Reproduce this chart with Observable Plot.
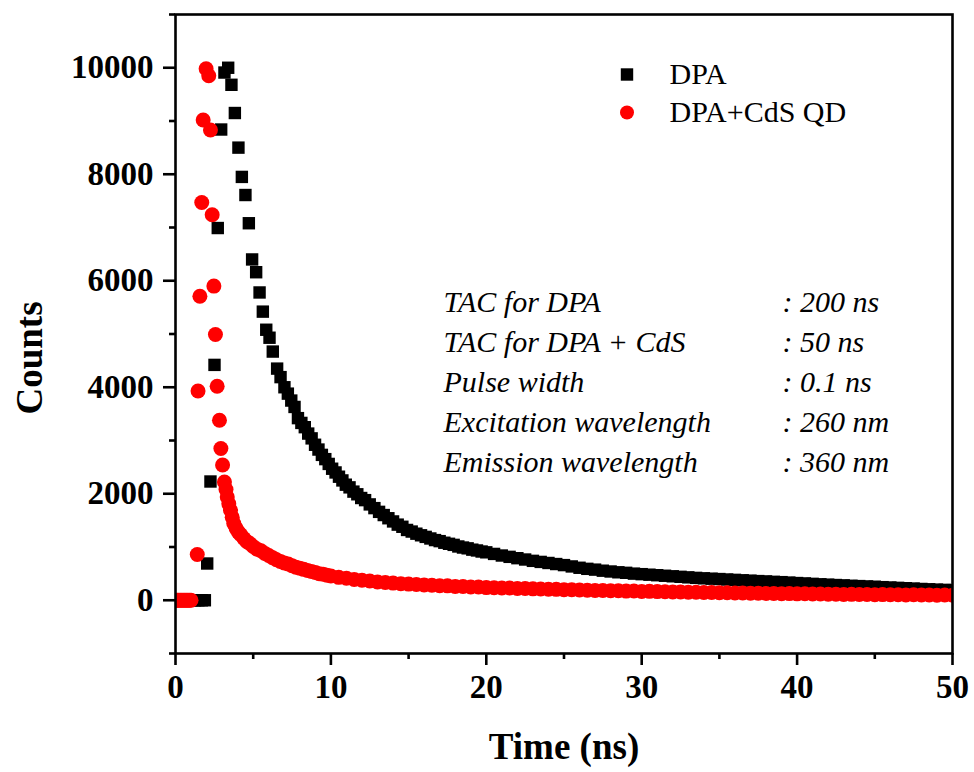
<!DOCTYPE html>
<html><head><meta charset="utf-8">
<script src="https://cdn.jsdelivr.net/npm/d3@7"></script>
<script src="https://cdn.jsdelivr.net/npm/@observablehq/plot@0.6"></script>
<style>html,body{margin:0;padding:0;background:#fff;}</style>
</head><body><div id="chart"></div>
<script>
// DPA decay: [time (ns), counts]
const dpaData = [
[0.15,0],[0.37,0],[0.59,0],[0.81,0],[1.03,0],[1.25,0],[1.47,0],[1.69,0],[1.89,0],
[2.04,690],[2.25,2230],[2.51,4420],[2.72,6990],[2.94,8840],[3.15,9910],[3.39,10000],[3.60,9680],[3.82,9150],[4.05,8500],
[4.27,7950],[4.50,7610],[4.72,7080],[4.93,6400],[5.19,6160],[5.41,5780],[5.62,5420],[5.84,5080],[6.05,4930],[6.26,4670],
[6.54,4350],[6.76,4190],[7.01,4000],[7.23,3880],[7.45,3750],[7.66,3630],[7.88,3420],[8.10,3330],[8.32,3250],[8.54,3130],
[8.76,3040],[8.98,2920],[9.20,2830],[9.42,2730],[9.64,2650],[9.86,2560],[10.08,2470],[10.30,2400],[10.52,2320],[10.74,2250],
[10.96,2170],[11.2,2120],[11.45,2040],[11.7,1990],[11.95,1920],[12.2,1880],[12.5,1800],[12.8,1730],[13.1,1660],[13.4,1600],
[13.7,1540],[14.0,1480],[14.3,1420],[14.6,1380],[14.9,1320],[15.2,1290],[15.5,1250],[15.8,1220],[16.1,1190],[16.4,1160],
[16.7,1130],[17.0,1110],[17.3,1080],[17.6,1060],[17.9,1040],[18.2,1010],[18.5,990],[18.8,975],[19.1,950],[19.4,935],
[19.7,915],[20.0,900],[20.5,870],[21.0,840],[21.5,815],[22.0,790],[22.5,765],[23.0,740],[23.5,720],[24.0,700],
[24.5,680],[25.0,660],[25.5,635],[26.0,610],[26.5,590],[27.0,575],[27.5,555],[28.0,540],[28.5,525],[29.0,515],
[29.5,500],[30.0,490],[30.5,480],[31.0,470],[31.5,460],[32.0,450],[32.5,440],[33.0,430],[33.5,420],[34.0,412],
[34.5,405],[35.0,398],[35.5,390],[36.0,383],[36.5,375],[37.0,368],[37.5,360],[38.0,354],[38.5,346],[39.0,340],
[39.5,332],[40.0,323],[40.5,316],[41.0,308],[41.5,300],[42.0,293],[42.5,286],[43.0,280],[43.5,272],[44.0,266],
[44.5,260],[45.0,254],[45.5,246],[46.0,240],[46.5,233],[47.0,226],[47.5,220],[48.0,212],[48.5,206],[49.0,200],
[49.5,195],[50.0,190]
];
// DPA + CdS QD decay: [time (ns), counts]
const cdsData = [
[0.0,0],[0.1,0],[0.2,0],[0.3,0],[0.4,0],[0.5,0],[0.6,0],[0.7,0],[0.8,0],[0.9,0],[1.0,0],
[1.40,860],[1.45,3930],[1.57,5710],[1.69,7470],[1.78,9020],[1.97,9980],[2.14,9850],[2.25,8830],[2.36,7240],[2.47,5900],
[2.57,4990],[2.68,4020],[2.83,3380],[2.92,2850],[3.03,2540],[3.15,2220],[3.25,2080],[3.33,1940],[3.43,1810],[3.54,1690],
[3.65,1560],[3.75,1440],[3.90,1350],[4.05,1280],[4.20,1230],[4.40,1160],[4.60,1100],[4.80,1060],[5.00,1010],[5.25,960],
[5.50,930],[5.75,880],[6.00,840],[6.25,800],[6.50,760],[6.75,730],[7.00,700],[7.25,680],[7.50,650],[7.75,620],
[8.00,600],[8.25,580],[8.50,560],[8.75,540],[9.00,520],[9.25,500],[9.50,490],[9.75,470],[10.0,455],[10.5,430],
[11.0,412],[11.5,392],[12.0,375],[12.5,362],[13.0,345],[13.5,333],[14.0,322],[14.5,312],[15.0,303],[15.5,295],
[16.0,288],[16.5,282],[17.0,272],[17.5,270],[18.0,260],[18.5,258],[19.0,248],[19.5,250],[20.0,238],[20.5,236],
[21.0,230],[21.5,229],[22.0,222],[22.5,220],[23.0,214],[23.5,212],[24.0,206],[24.5,205],[25.0,199],[25.5,198],
[26.0,192],[26.5,190],[27.0,185],[27.5,184],[28.0,178],[28.5,178],[29.0,172],[29.5,173],[30.0,166],[30.5,167],
[31.0,162],[31.5,160],[32.0,156],[32.5,157],[33.0,150],[33.5,151],[34.0,146],[34.5,145],[35.0,141],[35.5,141],
[36.0,136],[36.5,137],[37.0,132],[37.5,133],[38.0,128],[38.5,129],[39.0,124],[39.5,125],[40.0,120],[40.5,121],
[41.0,117],[41.5,118],[42.0,113],[42.5,115],[43.0,110],[43.5,111],[44.0,107],[44.5,109],[45.0,105],[45.5,106],
[46.0,102],[46.5,104],[47.0,100],[47.5,102],[48.0,98],[48.5,100],[49.0,96],[49.5,98],[50.0,95]
];
const xMajorTicks = [0, 10, 20, 30, 40, 50];
const xMinorTicks = [5, 15, 25, 35, 45];
const yMajorTicks = [0, 2000, 4000, 6000, 8000, 10000];
const yMinorTicks = [-1000, 1000, 3000, 5000, 7000, 9000, 11000];
const seriesNames = ["DPA", "DPA+CdS QD"];
const infoLabels = ["TAC for DPA", "TAC for DPA + CdS", "Pulse width", "Excitation wavelength", "Emission wavelength"];
const infoValues = [": 200 ns", ": 50 ns", ": 0.1 ns", ": 260 nm", ": 360 nm"];

const dpa = dpaData.map(([t, c]) => ({t, c}));
const cds = cdsData.map(([t, c]) => ({t, c}));

const serif = "'Liberation Serif','Times New Roman',serif";
const infoMarks = [];
infoLabels.forEach((s, i) => {
  infoMarks.push(Plot.text([s], {frameAnchor: "top-left", dx: 268, dy: 287.5 + 40 * i, textAnchor: "start", lineAnchor: "middle", fontSize: 30, fontStyle: "italic", fontWeight: "normal", fill: "black"}));
  infoMarks.push(Plot.text([infoValues[i]], {frameAnchor: "top-left", dx: 607, dy: 287.5 + 40 * i, textAnchor: "start", lineAnchor: "middle", fontSize: 30, fontStyle: "italic", fontWeight: "normal", fill: "black"}));
});

const chart = Plot.plot({
  width: 974, height: 772,
  marginLeft: 175, marginRight: 22, marginTop: 14, marginBottom: 119,
  style: {fontFamily: serif, fontSize: "33px", fontWeight: "bold", color: "black", background: "white", overflow: "visible"},
  x: {domain: [0, 50]},
  y: {domain: [-1000, 11000]},
  marks: [
    Plot.dot(dpa, {x: "t", y: "c", symbol: "square", r: 7, fill: "black", stroke: "none", clip: true}),
    Plot.dot(cds, {x: "t", y: "c", symbol: "circle", r: 7.5, fill: "#ff0000", stroke: "none", clip: true}),
    Plot.frame({stroke: "black", strokeWidth: 2.6}),
    Plot.axisX({ticks: xMajorTicks, tickSize: 12, tickPadding: 9, strokeWidth: 2.6, tickFormat: d => String(d), label: null}),
    Plot.axisX({ticks: xMinorTicks, tickSize: 6, strokeWidth: 2.6, tickFormat: () => "", label: null}),
    Plot.axisY({ticks: yMajorTicks, tickSize: 12, tickPadding: 10, strokeWidth: 2.6, tickFormat: d => String(d), label: null}),
    Plot.axisY({ticks: yMinorTicks, tickSize: 6, strokeWidth: 2.6, tickFormat: () => "", label: null}),
    Plot.text(["Counts"], {frameAnchor: "left", rotate: -90, dx: -145, dy: 24, textAnchor: "middle", lineAnchor: "middle", fontSize: 37, fontWeight: "bold", fill: "black"}),
    Plot.text(["Time (ns)"], {frameAnchor: "bottom", dy: 94, textAnchor: "middle", lineAnchor: "middle", fontSize: 37, fontWeight: "bold", fill: "black"}),
    Plot.dot([0], {frameAnchor: "top-left", dx: 451.5, dy: 60, symbol: "square", r: 7, fill: "black"}),
    Plot.dot([0], {frameAnchor: "top-left", dx: 451.5, dy: 98, symbol: "circle", r: 7, fill: "#ff0000"}),
    Plot.text([seriesNames[0]], {frameAnchor: "top-left", dx: 494, dy: 60, textAnchor: "start", lineAnchor: "middle", fontSize: 30, fontWeight: "normal", fill: "black"}),
    Plot.text([seriesNames[1]], {frameAnchor: "top-left", dx: 494, dy: 98, textAnchor: "start", lineAnchor: "middle", fontSize: 30, fontWeight: "normal", fill: "black"}),
    ...infoMarks
  ]
});
document.getElementById("chart").appendChild(chart);
</script>
</body></html>
